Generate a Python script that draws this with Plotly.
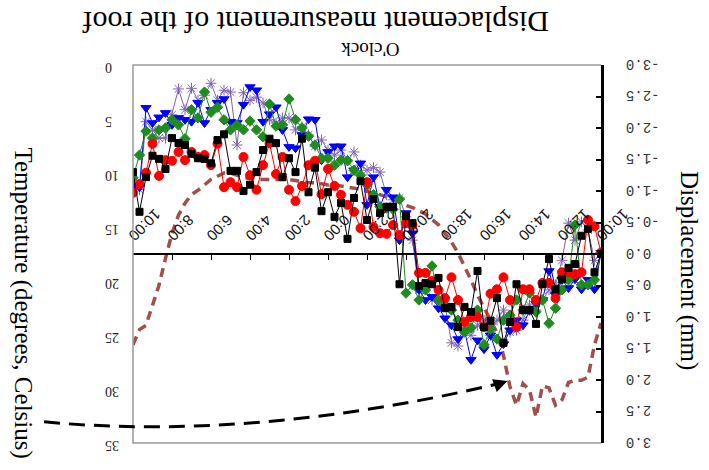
import plotly.graph_objects as go

# Sample times: hours elapsed since 10:00, listed from the latest (10:00 next day, left) to the start (right)
elapsed_h = [24 - k / 3 for k in range(73)]

tick_hours = [24, 22, 20, 18, 16, 14, 12, 10, 8, 6, 4, 2, 0]
tick_labels = ["10:00", "8:00", "6:00", "4:00", "2:00", "0:00", "22:00", "20:00",
               "18:00", "16:00", "14:00", "12:00", "10:00"]

temperature = [25.9, 24.5, 24.1, 22.2, 20.4, 17.9, 15.6, 13.9, 12.8, 12.0,
               11.6, 11.1, 10.6, 10.3, 10.0, 10.0, 10.2, 10.4, 10.5, 10.6,
               10.6, 10.6, 10.6, 10.6, 10.6, 10.7, 10.8, 10.9, 10.9, 11.0,
               11.1, 11.1, 11.2, 11.3, 11.4, 11.5, 11.7, 11.9, 12.0, 12.2,
               12.5, 12.7, 13.0, 13.2, 13.5, 13.8, 14.3, 14.8, 15.6, 16.4,
               17.4, 18.6, 19.9, 21.3, 22.5, 23.6, 24.8, 26.9, 29.8, 31.5,
               29.5, 30.1, 32.6, 29.7, 29.9, 31.5, 31.0, 29.4, 29.2, 29.2,
               28.9, 25.9, 23.9]

disp_black = [-1.30, -0.67, -1.22, -1.56, -1.51, -1.35, -1.84, -1.76, -1.73, -1.59,
              -1.52, -1.51, -1.44, -1.81, -1.90, -1.32, -1.32, -1.00, -1.10, -1.30,
              -1.65, -1.83, -1.76, -1.22, -1.52, -1.30, -1.83, -0.98, -1.37, -0.68,
              -0.98, -0.59, -0.81, -0.24, -0.89, -1.16, -0.54, -0.87, -0.65, -0.75,
              -0.75, 0.48, -0.60, -0.49, 0.51, 0.46, 0.48, 0.38, 0.86, 0.84,
              1.16, 0.84, 0.92, 0.27, 1.16, 1.06, 0.70, 1.41, 1.08, 0.48,
              0.89, 0.89, 1.11, 0.48, 0.08, 0.56, 0.40, 0.22, 0.16, -0.29,
              -0.40, 0.29, 0.00]

disp_red = [-0.97, -1.11, -1.29, -1.75, -1.24, -1.49, -1.48, -1.62, -1.49, -1.62,
            -1.54, -1.57, -1.41, -1.75, -1.06, -1.14, -1.06, -1.54, -1.25, -1.02,
            -1.41, -1.76, -1.27, -1.54, -1.02, -0.84, -1.08, -1.41, -1.48, -0.95,
            -1.35, -1.08, -0.94, -0.78, -0.67, -0.41, -1.14, -0.43, -0.33, -0.32,
            -0.46, -0.30, -0.49, -0.46, 0.30, 0.30, 0.43, 0.57, 0.70, 0.37,
            0.73, 1.08, 1.00, 1.00, 1.16, 0.63, 0.56, 0.37, 0.73, 1.16,
            0.56, 0.56, 0.73, 0.46, 0.46, 0.70, 0.29, 0.29, 0.32, 0.29,
            -0.54, -0.44, -0.02]

disp_green = [-1.21, -1.57, -1.95, -1.84, -1.97, -2.00, -2.13, -2.05, -1.83, -2.29,
              -2.16, -2.57, -2.25, -2.33, -2.13, -1.97, -2.05, -1.97, -2.11, -1.97,
              -1.86, -2.38, -2.03, -2.05, -2.46, -2.13, -2.00, -1.87, -1.73, -1.52,
              -1.52, -1.41, -1.49, -1.48, -1.33, -1.25, -1.10, -0.94, -0.75, -0.73,
              -0.71, -0.87, 0.62, 0.49, 0.73, 0.57, 0.19, 0.73, 0.81, 0.89,
              1.05, 1.24, 1.17, 0.89, 1.44, 1.19, 1.35, 1.05, 0.97, 0.73,
              0.89, 0.62, 0.92, 0.73, 1.10, 0.86, 0.57, 0.41, -0.46, 0.49,
              0.49, 0.41, -0.02]

disp_blue = [-1.08, -1.06, -2.32, -2.08, -2.17, -2.24, -2.05, -2.16, -2.13, -2.10,
             -2.40, -2.08, -2.29, -2.40, -2.46, -2.10, -2.08, -2.37, -2.65, -2.60,
             -2.10, -2.22, -2.33, -1.97, -1.70, -1.68, -1.89, -2.14, -2.13, -1.49,
             -1.62, -1.71, -1.71, -1.22, -1.33, -1.44, -0.78, -1.22, -0.75, -1.02,
             -0.90, -0.22, -0.65, -0.33, 0.57, 0.73, 0.68, 0.86, 1.02, 1.13,
             1.35, 1.21, 1.68, 1.37, 1.51, 1.29, 1.60, 1.43, 1.21, 1.05,
             1.13, 0.90, 0.79, 0.73, 0.27, 0.65, 0.41, 0.54, 0.40, 0.56,
             0.41, 0.56, -0.02]

disp_purple = [-1.17, -1.02, -2.10, -1.97, -1.84, -1.84, -2.21, -2.62, -2.29, -2.63,
               -2.44, -2.52, -2.71, -2.44, -2.60, -2.57, -1.73, -2.56, -2.44, -2.49,
               -2.40, -2.13, -2.08, -2.16, -2.16, -1.97, -2.02, -1.89, -1.71, -1.81,
               -1.65, -1.57, -1.65, -1.49, -1.62, -1.41, -1.33, -1.37, -1.30, -0.94,
               -0.86, -0.89, -0.59, -0.22, 0.57, 0.49, 0.73, 0.73, 0.81, 1.41,
               1.46, 1.21, 1.29, 1.13, 1.05, 1.29, 1.05, 0.89, 1.24, 1.21,
               1.05, 0.81, 0.89, 0.73, 0.57, 0.49, 0.10, -0.49, -0.22, -0.51,
               -0.38, 0.10, -0.02]

temp_ticks = [0, 5, 10, 15, 20, 25, 30, 35]
disp_ticks = [-3.0, -2.5, -2.0, -1.5, -1.0, -0.5, 0.0, 0.5, 1.0, 1.5, 2.0, 2.5, 3.0]
disp_ticktext = ["-3.0", "-2.5", "-2.0", "-1.5", "-1.0", "-0.5", "0.0",
                 "0.5", "1.0", "1.5", "2.0", "2.5", "3.0"]

series = [
    (disp_purple, "#8064b4", "asterisk-open", 9),
    (disp_blue, "#0000ff", "triangle-down", 9),
    (disp_green, "#1e8c1e", "diamond", 8),
    (disp_red, "#ff0000", "circle", 9),
    (disp_black, "#000000", "square", 7),
]

fig = go.Figure()
for vals, col, sym, sz in series:
    fig.add_trace(go.Scatter(
        x=elapsed_h, y=vals, yaxis="y2", mode="lines+markers",
        line=dict(color=col, width=1),
        marker=dict(symbol=sym, size=sz, color=col, line=dict(color=col, width=1)),
        showlegend=False, hoverinfo="skip"))

fig.add_trace(go.Scatter(
    x=elapsed_h, y=temperature, yaxis="y", mode="lines",
    line=dict(color="#a0504c", width=3.5, dash="9px,6px"),
    showlegend=False, hoverinfo="skip"))

serif = "Liberation Serif, Times New Roman, serif"

# pad labels so that (after the 180 degree turn) their far edges line up
disp_ticktext_padded = [t.rjust(4, "\u00a0") for t in disp_ticktext]

fig.update_layout(
    width=709, height=470,
    margin=dict(l=133, r=108, t=65, b=27),
    paper_bgcolor="white", plot_bgcolor="white",
    xaxis=dict(range=[24, 0], anchor="free", position=0.5, side="top",
               tickvals=tick_hours, ticktext=tick_labels, tickangle=135,
               tickfont=dict(family="Liberation Sans, Arial", size=15, color="#111"),
               showline=True, linecolor="black", linewidth=1.5,
               ticks="inside", ticklen=5, tickcolor="black", tickwidth=1,
               showgrid=False, zeroline=False),
    yaxis=dict(range=[35, 0], tickvals=temp_ticks, tickangle=180,
               ticklabelstandoff=27, ticklabelshift=-7,
               tickfont=dict(family=serif, size=14, color="#222"),
               showline=False, showgrid=False, zeroline=False, ticks=""),
    yaxis2=dict(range=[3, -3], overlaying="y", side="right", anchor="x",
                tickvals=disp_ticks, ticktext=disp_ticktext_padded, tickangle=180,
                ticklabelstandoff=53, ticklabelshift=-4,
                tickfont=dict(family="Liberation Mono, monospace", size=14, color="#333"),
                showline=True, linecolor="black", linewidth=2.5,
                ticks="inside", ticklen=5, tickcolor="black", tickwidth=1.5,
                showgrid=False, zeroline=False),
)

# gray frame on the other three sides
fig.add_shape(type="path", xref="paper", yref="paper",
              path="M 1 1 L 0 1 L 0 0 L 1 0",
              line=dict(color="#9a9a9a", width=1.5))

# dashed curved pointer
fig.add_shape(type="path", xref="paper", yref="paper",
              path="M -0.19 0.056 C 0.12 0.02, 0.45 0.06, 0.785 0.158",
              line=dict(color="black", width=3, dash="16px,9px"))
fig.add_annotation(x=0.8, y=0.164, xref="paper", yref="paper", text="",
                   showarrow=True, arrowhead=2, arrowsize=1.1, arrowwidth=2.5,
                   arrowcolor="black", ax=-14, ay=5)

# texts (figure is shown upside down)
fig.add_annotation(x=0.39, y=1.112, xref="paper", yref="paper", yanchor="middle",
                   text="Displacement measurement of the roof", showarrow=False,
                   textangle=180, font=dict(family=serif, size=30, color="black"))
fig.add_annotation(x=0.506, y=1.041, xref="paper", yref="paper", yanchor="middle",
                   text="O'clock", showarrow=False, textangle=180,
                   font=dict(family=serif, size=19, color="black"))
fig.add_annotation(x=-0.27, y=0.37, xref="paper", yref="paper",
                   text="Temperature (degrees, Celsius)", showarrow=False,
                   textangle=90, font=dict(family=serif, size=25, color="black"))
fig.add_annotation(x=1.222, y=0.455, xref="paper", yref="paper",
                   text="Displacement (mm)", showarrow=False,
                   textangle=90, font=dict(family=serif, size=25, color="black"))

fig.write_html("out.html")
